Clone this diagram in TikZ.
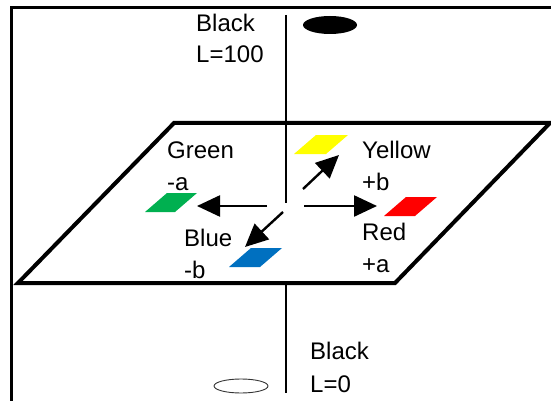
\documentclass[tikz,border=0pt]{standalone}
\usepackage{fontspec}
\setmainfont{Liberation Sans}
\usetikzlibrary{arrows.meta}
\begin{document}
\begin{tikzpicture}[x=1pt,y=-1pt,
  lbl/.style={anchor=base west,inner sep=0pt,font=\fontsize{24}{28}\selectfont},
  plane/.style={line width=4pt,line join=miter},
  axisline/.style={line width=2.4pt},
  frameline/.style={line width=3pt},
  dirarrow/.style={line width=2.4pt,-{Triangle[length=23pt,width=21pt]}},
  swatch/.style={draw=none}]
\useasboundingbox (0,0) rectangle (551,401);
% frame
\draw[frameline] (11,401) -- (11,8) -- (551,8);
% axis
\coordinate (axtop) at (286,15);
\coordinate (center) at (286,203);
\coordinate (axlow) at (286,283);
\coordinate (axbot) at (286,393);
\draw[axisline] (axtop) -- (center);
\draw[axisline] (axlow) -- (axbot);
% plane
\draw[plane] (174,123) -- (550,123) -- (395,283) -- (18,283) -- cycle;
% ellipses
\fill[black] (330,25) ellipse [x radius=27, y radius=9];
\draw[line width=0.9pt,black!80] (241,386) ellipse [x radius=27, y radius=7];
% swatches
\fill[swatch,fill={rgb,255:red,0;green,176;blue,80}] (145,212) -- (167,193) -- (197,193) -- (175,212) -- cycle;
\fill[swatch,fill={rgb,255:red,255;green,0;blue,0}] (384,216) -- (406,197) -- (437,197) -- (415,216) -- cycle;
\fill[swatch,fill={rgb,255:red,255;green,255;blue,0}] (294,154) -- (316,135) -- (348,135) -- (326,154) -- cycle;
\fill[swatch,fill={rgb,255:red,0;green,112;blue,192}] (229,267) -- (251,248) -- (282,248) -- (260,267) -- cycle;
% arrows
\coordinate (gs) at (267,206); \coordinate (ge) at (197,206);
\coordinate (rs) at (304,206); \coordinate (re) at (377,206);
\coordinate (ys) at (303,189); \coordinate (ye) at (339,155);
\coordinate (bs) at (283,212); \coordinate (be) at (245,247);
\draw[dirarrow] (gs) -- (ge);
\draw[dirarrow] (rs) -- (re);
\draw[dirarrow] (ys) -- (ye);
\draw[dirarrow] (bs) -- (be);
% labels
\node[lbl] (bt1) at (196,32) {Black};
\node[lbl] (bt2) at (196,63) {L=100};
\node[lbl] (g1) at (167,158) {Green};
\node[lbl] (g2) at (167,190) {-a};
\node[lbl] (y1) at (362,158) {Yellow};
\node[lbl] (y2) at (362,190) {+b};
\node[lbl] (bl1) at (184,246) {Blue};
\node[lbl] (bl2) at (184,278) {-b};
\node[lbl] (r1) at (362,240) {Red};
\node[lbl] (r2) at (362,272) {+a};
\node[lbl] (bb1) at (310,359) {Black};
\node[lbl] (bb2) at (310,392) {L=0};
\end{tikzpicture}
\end{document}
